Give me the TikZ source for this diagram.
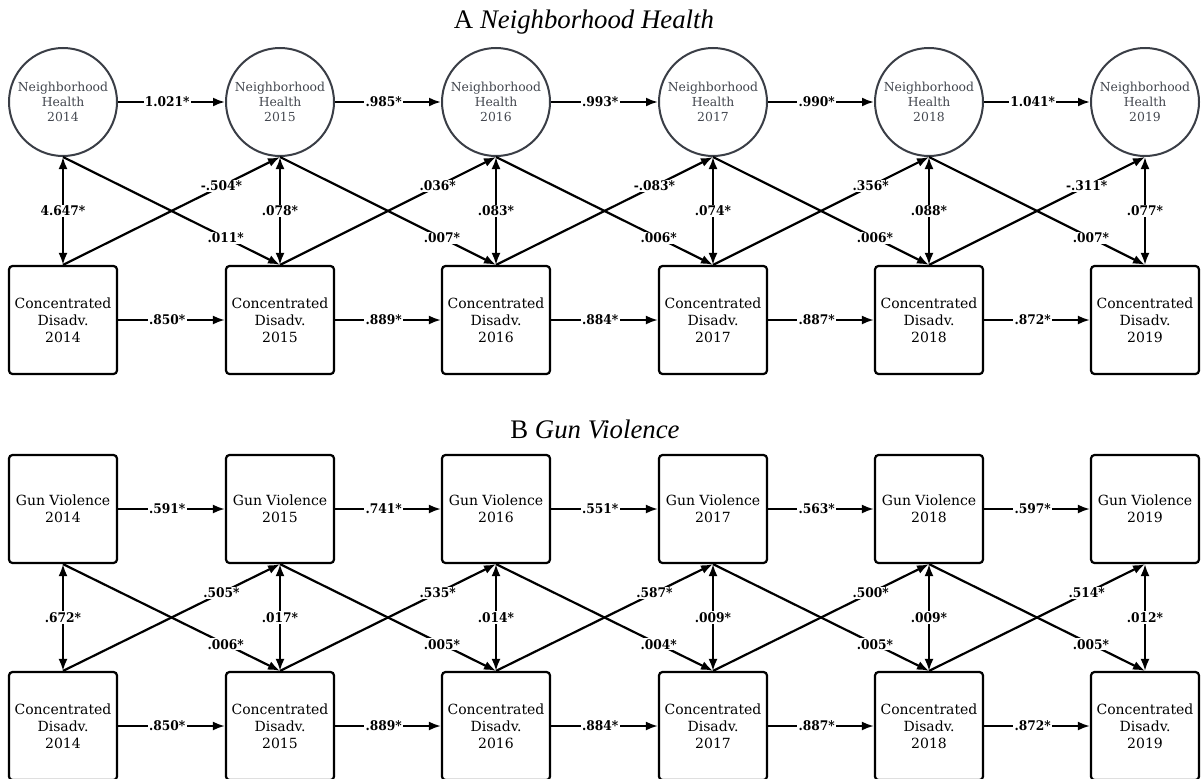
\documentclass[tikz,border=0pt]{standalone}
\usepackage{fontspec}
\setmainfont{DejaVu Serif}
\newfontfamily\lblfont{DejaVu Serif}[FakeStretch=0.92]
\newfontfamily\titlefont{Liberation Serif}
\usetikzlibrary{arrows.meta}
\definecolor{circ}{HTML}{3A3E46}
\definecolor{ctext}{HTML}{42464E}
\tikzset{
 latent/.style={circle,draw=circ,line width=2pt,minimum size=108pt,inner sep=0pt,align=center,font=\fontsize{12.4}{15}\selectfont,text=ctext},
 obs/.style={rectangle,rounded corners=3.5pt,draw=black,line width=2.2pt,minimum width=108pt,minimum height=108pt,inner sep=0pt,align=center,font=\fontsize{14}{17}\selectfont},
 reg/.style={line width=2.2pt,-{Latex[length=12pt,width=9pt]}},
 cov/.style={line width=2.2pt,{Latex[length=12pt,width=9pt]}-{Latex[length=12pt,width=9pt]}},
 lbl/.style={fill=white,inner sep=1.2pt,font=\lblfont\fontsize{13.3}{15}\selectfont\bfseries},
 ttl/.style={inner sep=0pt,font=\titlefont\fontsize{26.8}{30}\selectfont}
}
\begin{document}
\begin{tikzpicture}[x=1pt,y=-1pt]
\useasboundingbox (0,0) rectangle (1202,779);
\node[ttl] (ta) at (584,22) {A \textit{Neighborhood Health}};
\node[ttl] (tb) at (595,429) {B \textit{Gun Violence}};
% nodes
\foreach \i/\x/\yr in {1/63/2014,2/280/2015,3/496/2016,4/713/2017,5/929/2018,6/1145/2019}{
  \node[latent] (nh\i) at (\x,102) {Neighborhood\\Health\\\yr};
  \node[obs] (ca\i) at (\x,320) {Concentrated\\Disadv.\\\yr};
  \node[obs] (gv\i) at (\x,509) {Gun Violence\\\yr};
  \node[obs] (cb\i) at (\x,726) {Concentrated\\Disadv.\\\yr};
}
% Panel A edges
\foreach \i/\j/\a/\b/\c/\d in {1/2/1.021*/.850*/-.504*/.011*,2/3/.985*/.889*/.036*/.007*,3/4/.993*/.884*/-.083*/.006*,4/5/.990*/.887*/.356*/.006*,5/6/1.041*/.872*/-.311*/.007*}{
  \draw[reg] (nh\i.east) -- node[lbl,pos=0.46]{\a} (nh\j.west);
  \draw[reg] (ca\i.east) -- node[lbl,pos=0.46]{\b} (ca\j.west);
  \draw[reg] (ca\i.north) -- node[lbl,pos=0.73]{\c} (nh\j.south);
  \draw[reg] (nh\i.south) -- node[lbl,pos=0.75]{\d} (ca\j.north);
}
\foreach \i/\v in {1/4.647*,2/.078*,3/.083*,4/.074*,5/.088*,6/.077*}{
  \draw[cov] (nh\i.south) -- node[lbl]{\v} (ca\i.north);
}
% Panel B edges
\foreach \i/\j/\a/\b/\c/\d in {1/2/.591*/.850*/.505*/.006*,2/3/.741*/.889*/.535*/.005*,3/4/.551*/.884*/.587*/.004*,4/5/.563*/.887*/.500*/.005*,5/6/.597*/.872*/.514*/.005*}{
  \draw[reg] (gv\i.east) -- node[lbl,pos=0.46]{\a} (gv\j.west);
  \draw[reg] (cb\i.east) -- node[lbl,pos=0.46]{\b} (cb\j.west);
  \draw[reg] (cb\i.north) -- node[lbl,pos=0.73]{\c} (gv\j.south);
  \draw[reg] (gv\i.south) -- node[lbl,pos=0.75]{\d} (cb\j.north);
}
\foreach \i/\v in {1/.672*,2/.017*,3/.014*,4/.009*,5/.009*,6/.012*}{
  \draw[cov] (gv\i.south) -- node[lbl]{\v} (cb\i.north);
}
\end{tikzpicture}
\end{document}
